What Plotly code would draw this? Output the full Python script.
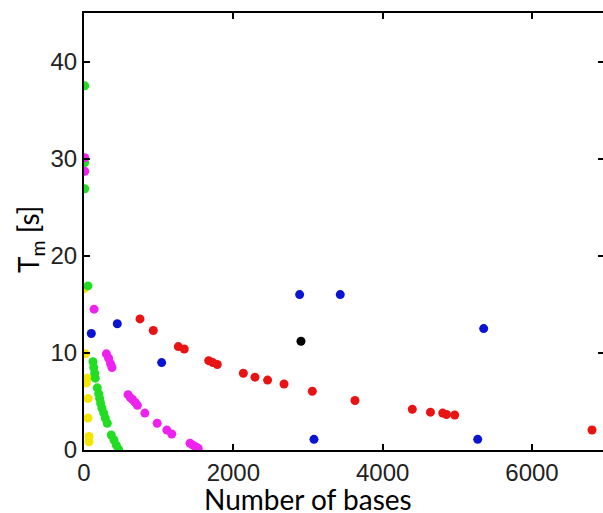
import plotly.graph_objects as go

# ---- data ----
yellow_x = [0, 18, 44, 31, 54, 54, 67, 67]
yellow_y = [16.6, 9.9, 7.4, 6.9, 5.3, 3.3, 1.4, 0.85]

green_x = [10, 10, 10, 54, 120, 130, 143, 151, 178, 197, 210, 223, 241, 264, 285, 312, 365, 402, 433, 464]
green_y = [37.5, 29.6, 26.9, 16.9, 9.1, 8.5, 7.9, 7.4, 6.4, 5.8, 5.3, 4.8, 4.3, 3.8, 3.3, 2.75, 1.55, 1.03, 0.5, 0.05]

magenta_x = [10, 10, 135, 300, 330, 355, 375, 590, 620, 650, 685, 715, 815, 980, 1110, 1175, 1420, 1460, 1500, 1530]
magenta_y = [30.1, 28.7, 14.5, 9.9, 9.45, 8.9, 8.5, 5.7, 5.4, 5.2, 4.9, 4.6, 3.8, 2.75, 2.05, 1.65, 0.7, 0.5, 0.3, 0.17]

blue_x = [98, 446, 1040, 2888, 3432, 3080, 5353, 5273]
blue_y = [12.0, 13.0, 9.0, 16.0, 16.0, 1.1, 12.5, 1.1]

red_x = [750, 928, 1263, 1343, 1670, 1725, 1785, 2134, 2290, 2459, 2679, 3058, 3629, 4397, 4640, 4804, 4855, 4965, 6804]
red_y = [13.5, 12.3, 10.65, 10.4, 9.2, 9.0, 8.8, 7.9, 7.5, 7.2, 6.8, 6.05, 5.1, 4.2, 3.9, 3.8, 3.65, 3.6, 2.06]

black_x = [2906]
black_y = [11.2]

x_ticks = [0, 2000, 4000, 6000]
y_ticks = [0, 10, 20, 30, 40]

series = [
    (yellow_x, yellow_y, "#f2e600"),
    (green_x, green_y, "#22dd22"),
    (magenta_x, magenta_y, "#ee22ee"),
    (blue_x, blue_y, "#0a14d2"),
    (red_x, red_y, "#e81414"),
    (black_x, black_y, "#000000"),
]

fig = go.Figure()
for xs, ys, col in series:
    fig.add_trace(go.Scatter(x=xs, y=ys, mode="markers",
                             marker=dict(color=col, size=9, line=dict(width=0)),
                             showlegend=False))

tickfont = dict(family="Liberation Sans", size=24, color="#222")

fig.update_layout(
    width=603, height=513,
    margin=dict(l=84, r=0, t=13, b=63),
    plot_bgcolor="white", paper_bgcolor="white",
    xaxis=dict(range=[0, 6951], tickvals=x_ticks, showline=True, linecolor="black",
               linewidth=2, mirror="ticks", ticks="inside", ticklen=6, tickwidth=1.5,
               tickcolor="black", showgrid=False, zeroline=False, tickfont=tickfont),
    yaxis=dict(range=[0, 45], tickvals=y_ticks, showline=True, linecolor="black",
               linewidth=2, mirror=False, ticks="inside", ticklen=6, tickwidth=1.5,
               tickcolor="black", showgrid=False, zeroline=False, tickfont=tickfont),
    yaxis2=dict(range=[0, 45], tickvals=y_ticks, overlaying="y", side="right",
                showline=False, ticks="inside", ticklen=5, tickwidth=1.5,
                tickcolor="black", showticklabels=False, showgrid=False, zeroline=False),
    annotations=[
        dict(text="Number of bases", xref="paper", yref="paper",
             x=(308 - 84) / 519, y=0, yshift=-49, xanchor="center", yanchor="middle",
             showarrow=False, font=dict(family="Lato", size=28, color="black")),
        dict(text="T<sub>m</sub> [s]", xref="paper", yref="paper",
             x=0, xshift=-54, y=(450 - 240) / 437, textangle=-90,
             xanchor="center", yanchor="middle",
             showarrow=False, font=dict(family="Lato", size=28, color="black")),
    ],
)
# invisible trace to activate the right-hand tick axis
fig.add_trace(go.Scatter(x=[None], y=[None], yaxis="y2", showlegend=False, hoverinfo="skip"))

fig.write_html("out.html")
